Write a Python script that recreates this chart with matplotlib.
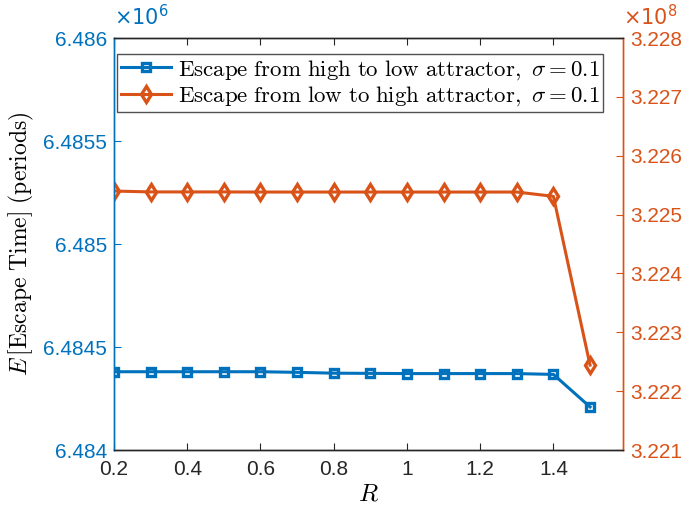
import matplotlib
matplotlib.use("Agg")
import matplotlib.pyplot as plt

plt.rcParams['font.family'] = ['Liberation Sans', 'DejaVu Sans']
plt.rcParams['mathtext.fontset'] = 'cm'

R = [0.2, 0.3, 0.4, 0.5, 0.6, 0.7, 0.8, 0.9, 1.0, 1.1, 1.2, 1.3, 1.4, 1.5]
# high -> low, in units of 1e6 periods
high_to_low = [6.48438, 6.48438, 6.48438, 6.48438, 6.48438, 6.484377, 6.484373,
               6.484372, 6.484371, 6.484371, 6.484371, 6.484371, 6.484367, 6.484209]
# low -> high, in units of 1e8 periods
low_to_high = [3.225400, 3.225385, 3.225385, 3.225385, 3.225383, 3.225383, 3.225383,
               3.225383, 3.225383, 3.225383, 3.225383, 3.225383, 3.22531, 3.222443]

xticks = [0.2, 0.4, 0.6, 0.8, 1.0, 1.2, 1.4]
xticklabels = ['0.2', '0.4', '0.6', '0.8', '1', '1.2', '1.4']
lticks = [6.484, 6.4845, 6.485, 6.4855, 6.486]
lticklabels = ['6.484', '6.4845', '6.485', '6.4855', '6.486']
rticks = [3.221, 3.222, 3.223, 3.224, 3.225, 3.226, 3.227, 3.228]
rticklabels = ['3.221', '3.222', '3.223', '3.224', '3.225', '3.226', '3.227', '3.228']

blue = '#0072BD'
orange = '#D95319'
axcol = '#262626'

fig = plt.figure(figsize=(6.85, 5.09), dpi=100)
ax = fig.add_axes([0.1664, 0.1159, 0.7431, 0.8094])
ax2 = ax.twinx()

l1, = ax.plot(R, high_to_low, color=blue, lw=2.2, marker='s', ms=6,
              mfc='none', mec=blue, mew=2.4,
              label=r'$\mathrm{Escape\ from\ high\ to\ low\ attractor},\ \sigma = 0.1$')
l2, = ax2.plot(R, low_to_high, color=orange, lw=2.2, marker='d', ms=8.5,
               mfc='none', mec=orange, mew=2.4,
               label=r'$\mathrm{Escape\ from\ low\ to\ high\ attractor},\ \sigma = 0.1$')

ax.set_xlim(0.2, 1.59)
ax.set_ylim(6.484, 6.486)
ax2.set_ylim(3.221, 3.228)

ax.set_xticks(xticks)
ax.set_xticklabels(xticklabels)
ax.set_yticks(lticks)
ax.set_yticklabels(lticklabels)
ax2.set_yticks(rticks)
ax2.set_yticklabels(rticklabels)

ax.tick_params(axis='x', direction='in', colors=axcol, labelsize=15, top=True, length=5, pad=7)
ax.tick_params(axis='y', direction='in', colors=blue, labelsize=15, length=5, pad=5)
ax2.tick_params(axis='y', direction='in', colors=orange, labelsize=15, length=5, pad=5)

for a in (ax, ax2):
    a.spines['top'].set_color(axcol)
    a.spines['bottom'].set_color(axcol)
    a.spines['left'].set_color(blue)
    a.spines['right'].set_color(orange)
    for s in a.spines.values():
        s.set_linewidth(1.0)

ax.set_xlabel(r'$R$', fontsize=18, labelpad=2)
ax.set_ylabel(r'$E\,[\mathrm{Escape\ Time}]\ \mathrm{(periods)}$', fontsize=17, labelpad=5)

ax.text(0.0, 1.022, r'$\times10^{6}$', transform=ax.transAxes, color=blue,
        fontsize=15, ha='left', va='bottom', math_fontfamily='dejavusans')
ax2.text(1.0, 1.022, r'$\times10^{8}$', transform=ax2.transAxes, color=orange,
         fontsize=15, ha='left', va='bottom', math_fontfamily='dejavusans')

leg = ax2.legend(handles=[l1, l2], loc='upper left', bbox_to_anchor=(0.0, 0.97),
                 fontsize=16.5, frameon=True, fancybox=False, edgecolor=axcol,
                 handlelength=2.2, handletextpad=0.3, borderpad=0.15, labelspacing=0.1,
                 borderaxespad=0.15)
leg.get_frame().set_linewidth(1.0)

fig.savefig('out.png', dpi=100)
